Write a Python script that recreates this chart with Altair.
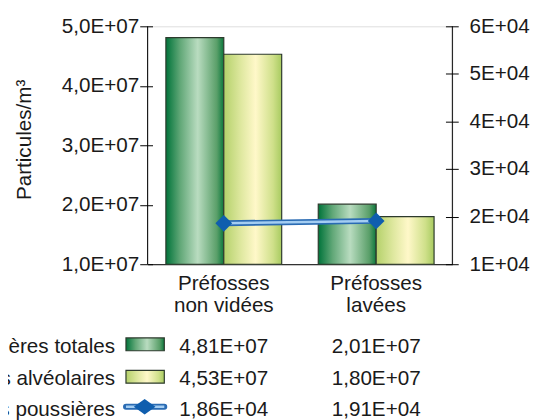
import altair as alt
import pandas as pd

# ---- data -------------------------------------------------------------
categories = ["Préfosses\nnon vidées", "Préfosses\nlavées"]
bar_series = ["Poussières totales", "Poussières alvéolaires"]
line_series = "Masse des poussières"
totales = [4.81e7, 2.01e7]
alveolaires = [4.53e7, 1.80e7]
line_values = [1.86e4, 1.91e4]
left_ticks = [1e7, 2e7, 3e7, 4e7, 5e7]
right_ticks = [1e4, 2e4, 3e4, 4e4, 5e4, 6e4]


def fmt(v):
    return f"{v:.2E}".replace(".", ",")


bars_df = pd.DataFrame({
    "cat": categories * 2,
    "series": [bar_series[0]] * 2 + [bar_series[1]] * 2,
    "value": totales + alveolaires,
})
line_df = pd.DataFrame({"cat": categories, "value": line_values})

FONT = "Liberation Sans"
TXT = "#1a1a1a"
FS = 21

# ---- styles -----------------------------------------------------------
green = alt.Gradient(
    gradient="linear", x1=0, x2=1, y1=0, y2=0,
    stops=[
        alt.GradientStop(color="#00733a", offset=0),
        alt.GradientStop(color="#62a878", offset=0.25),
        alt.GradientStop(color="#b9dcc0", offset=0.55),
        alt.GradientStop(color="#5a9f69", offset=0.88),
        alt.GradientStop(color="#0b783d", offset=1),
    ],
)
yellow = alt.Gradient(
    gradient="linear", x1=0, x2=1, y1=0, y2=0,
    stops=[
        alt.GradientStop(color="#b4d16a", offset=0),
        alt.GradientStop(color="#dfe8a0", offset=0.3),
        alt.GradientStop(color="#fff8c9", offset=0.55),
        alt.GradientStop(color="#cfe08a", offset=0.85),
        alt.GradientStop(color="#a8cb60", offset=1),
    ],
)
BAR_STROKE = "#2d3a2d"
LINE_OUT = "#2a6bb3"
LINE_IN = "#a3cdf2"
DIAMOND = "#0f5eae"

X = alt.X(
    "cat:N",
    sort=categories,
    scale=alt.Scale(domain=categories, paddingInner=0.24, paddingOuter=0.12),
    axis=alt.Axis(
        title=None,
        labelExpr="split(datum.label, '\\n')",
        labelAngle=0,
        ticks=False,
        tickSize=0,
        labelPadding=9,
        labelFontSize=FS,
        labelLineHeight=22,
        labelColor=TXT,
        labelFont=FONT,
        domainColor="#000000",
        domainWidth=1,
    ),
)
XO = alt.XOffset("series:N", sort=bar_series, scale=alt.Scale(domain=bar_series))

YL = alt.Y(
    "value:Q",
    scale=alt.Scale(domain=[1e7, 5e7], zero=False, nice=False),
    axis=alt.Axis(
        values=left_ticks,
        labelExpr="replace(format(datum.value / 10000000, '.1f'), '.', ',') + 'E+07'",
        title="Particules/m³",
        titleFontSize=FS,
        titleFontWeight="normal",
        titleFont=FONT,
        titleColor=TXT,
        titleX=-130,
        titleY=115,
        titleAngle=270,
        titleBaseline="middle",
        orient="left",
        offset=-5,
        tickSize=13,
        tickColor="#000000",
        domain=False,
        labelPadding=1,
        labelFontSize=FS,
        labelFont=FONT,
        labelColor=TXT,
        grid=False,
    ),
)
YR = alt.Y(
    "value:Q",
    scale=alt.Scale(domain=[1e4, 6e4], zero=False, nice=False),
    axis=alt.Axis(
        values=right_ticks,
        labelExpr="format(datum.value / 10000, 'd') + 'E+04'",
        title=None,
        orient="right",
        offset=-7,
        tickSize=13,
        tickColor="#000000",
        domain=False,
        labelPadding=11,
        labelFontSize=FS,
        labelFont=FONT,
        labelColor=TXT,
        grid=False,
    ),
)

base = alt.Chart(bars_df)
bar1 = base.transform_filter(alt.datum.series == bar_series[0]).mark_bar(
    fill=green, stroke=BAR_STROKE, strokeWidth=1.2
).encode(x=X, xOffset=XO, y=YL, y2=alt.datum(1e7))
bar2 = base.transform_filter(alt.datum.series == bar_series[1]).mark_bar(
    fill=yellow, stroke=BAR_STROKE, strokeWidth=1.2
).encode(x=X, xOffset=XO, y=YL, y2=alt.datum(1e7))
left_group = alt.layer(bar1, bar2)

lbase = alt.Chart(line_df)
l_out = lbase.mark_line(color=LINE_OUT, strokeWidth=6).encode(x=X, y=YR)
l_in = lbase.mark_line(color=LINE_IN, strokeWidth=2.5).encode(x=X, y=YR)
l_pts = lbase.mark_point(shape="diamond", size=290, filled=True, color=DIAMOND, opacity=1).encode(x=X, y=YR)
right_group = alt.layer(l_out, l_in, l_pts)

# ---- data table under the chart ---------------------------------------
rows_y = [326, 359, 390]
table_layers = []
all_series = bar_series + [line_series]
all_vals = [totales, alveolaires, line_values]
for i, (name, vals) in enumerate(zip(all_series, all_vals)):
    vdf = pd.DataFrame({"cat": categories, "txt": [fmt(v) for v in vals]})
    table_layers.append(
        alt.Chart(vdf).mark_text(fontSize=FS, font=FONT, color=TXT, baseline="middle").encode(
            x=X, y=alt.value(rows_y[i]), text="txt:N"
        )
    )
    ndf = pd.DataFrame({"name": [name]})
    table_layers.append(
        alt.Chart(ndf).mark_text(fontSize=FS, font=FONT, color=TXT, align="right", baseline="middle").encode(
            x=alt.value(-33), y=alt.value(rows_y[i]), text="name:N"
        )
    )
    if i < 2:
        table_layers.append(
            alt.Chart(ndf).mark_rect(fill=[green, yellow][i], stroke=BAR_STROKE, strokeWidth=1.2).encode(
                x=alt.value(-22), x2=alt.value(17), y=alt.value(rows_y[i] - 9), y2=alt.value(rows_y[i] + 4)
            )
        )
    else:
        table_layers.append(
            alt.Chart(ndf).mark_rule(color=LINE_OUT, strokeWidth=6, strokeCap="round").encode(
                x=alt.value(-22), x2=alt.value(17), y=alt.value(rows_y[i] - 3)
            )
        )
        table_layers.append(
            alt.Chart(ndf).mark_rule(color=LINE_IN, strokeWidth=2.5).encode(
                x=alt.value(-22), x2=alt.value(17), y=alt.value(rows_y[i] - 3)
            )
        )
        table_layers.append(
            alt.Chart(ndf).mark_point(
                shape="M-1,0L0,-0.72L1,0L0,0.72Z", size=484, filled=True, color=DIAMOND, opacity=1
            ).encode(x=alt.value(-3), y=alt.value(rows_y[i] - 3))
        )

frame_df = pd.DataFrame({"a": [0]})
frame_left = alt.Chart(frame_df).mark_rule(color="#000000", strokeWidth=1).encode(
    x=alt.value(0), y=alt.value(0), y2=alt.value(242)
)
frame_right = alt.Chart(frame_df).mark_rule(color="#000000", strokeWidth=1).encode(
    x=alt.value(310), y=alt.value(0), y2=alt.value(242)
)

chart = (
    alt.layer(left_group, right_group, frame_left, frame_right, *table_layers)
    .resolve_scale(y="independent")
    .properties(
        width=310,
        height=242,
        autosize=alt.AutoSizeParams(type="none"),
        padding={"left": 142, "top": 15, "right": 80, "bottom": 165},
        background="#ffffff",
    )
    .configure_view(stroke=None)
    .configure(font=FONT)
)

chart.save("out.html", embed_options={"renderer": "svg", "actions": False})
